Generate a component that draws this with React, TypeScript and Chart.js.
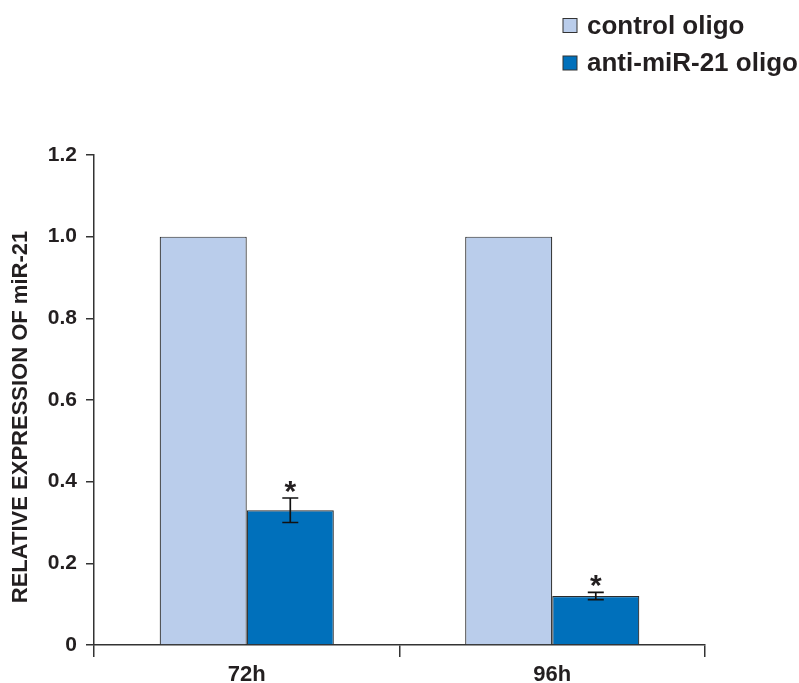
import React, { useEffect, useRef } from "react";
import { Chart, registerables } from "chart.js";

Chart.register(...registerables);

// Relative miR-21 expression after oligo transfection
const categories = ["72h", "96h"];
const seriesNames = ["control oligo", "anti-miR-21 oligo"];
const controlValues = [1.0, 1.0];
const antiValues = [0.33, 0.12];
const antiErrors = [0.03, 0.009];
const significanceMarks = ["*", "*"];
const yAxisTitle = "RELATIVE EXPRESSION OF miR-21";

const FONT = '"Liberation Sans", Arial, Helvetica, sans-serif';
const TEXT_COLOR = "#231f20";
const AXIS_COLOR = "#333333";
const CONTROL_COLOR = "#bacdeb";
const ANTI_COLOR = "#0070bb";

// Error bars and significance stars on the anti-miR-21 series
const errorBarPlugin = {
  id: "errorBars",
  afterDatasetsDraw(chart: any) {
    const ctx = chart.ctx;
    const yScale = chart.scales.y;
    const meta = chart.getDatasetMeta(1);
    ctx.save();
    meta.data.forEach((bar: any, i: number) => {
      const x = bar.x;
      const v = antiValues[i];
      const e = antiErrors[i];
      const yTop = yScale.getPixelForValue(v + e);
      const yBot = yScale.getPixelForValue(v - e);
      const cap = 8;
      ctx.strokeStyle = "#111";
      ctx.lineWidth = 1.7;
      ctx.beginPath();
      ctx.moveTo(x, yTop);
      ctx.lineTo(x, yBot);
      ctx.moveTo(x - cap, yTop);
      ctx.lineTo(x + cap, yTop);
      ctx.moveTo(x - cap, yBot);
      ctx.lineTo(x + cap, yBot);
      ctx.stroke();

      const mark = significanceMarks[i];
      if (mark) {
        ctx.font = `bold 30px ${FONT}`;
        ctx.fillStyle = TEXT_COLOR;
        ctx.textAlign = "center";
        ctx.textBaseline = "alphabetic";
        const m = ctx.measureText(mark);
        const target = yTop - 11;
        const baseline = target + (m.actualBoundingBoxAscent - m.actualBoundingBoxDescent) / 2;
        ctx.fillText(mark, x, baseline);
      }
    });
    ctx.restore();
  },
};

// Stacked legend in the top-right corner and the rotated y-axis title
const legendPlugin = {
  id: "stackedLegend",
  afterDraw(chart: any) {
    const ctx = chart.ctx;
    const colors = [CONTROL_COLOR, ANTI_COLOR];
    const rows = [25.5, 63];
    ctx.save();
    seriesNames.forEach((name, i) => {
      const cy = rows[i];
      ctx.fillStyle = colors[i];
      ctx.fillRect(563, cy - 7, 14, 14);
      ctx.strokeStyle = AXIS_COLOR;
      ctx.lineWidth = 1;
      ctx.strokeRect(563, cy - 7, 14, 14);
      ctx.font = `bold 26px ${FONT}`;
      ctx.fillStyle = TEXT_COLOR;
      ctx.textAlign = "left";
      ctx.textBaseline = "middle";
      ctx.fillText(name, 587, cy + 1);
    });

    ctx.translate(21, 417);
    ctx.rotate(-Math.PI / 2);
    ctx.font = `bold 22px ${FONT}`;
    ctx.fillStyle = TEXT_COLOR;
    ctx.textAlign = "center";
    ctx.textBaseline = "middle";
    ctx.fillText(yAxisTitle, 0, 0);
    ctx.restore();
  },
};

export default function App() {
  const canvasRef = useRef<HTMLCanvasElement | null>(null);

  useEffect(() => {
    const canvas = canvasRef.current;
    if (!canvas) return;
    const chart = new Chart(canvas, {
      type: "bar",
      data: {
        labels: categories,
        datasets: [
          {
            label: seriesNames[0],
            data: controlValues,
            backgroundColor: CONTROL_COLOR,
            borderColor: "#2b2b2b",
            borderWidth: 1.2,
            categoryPercentage: 0.57,
            barPercentage: 1.0,
          },
          {
            label: seriesNames[1],
            data: antiValues,
            backgroundColor: ANTI_COLOR,
            borderColor: "#2b2b2b",
            borderWidth: 1.2,
            categoryPercentage: 0.57,
            barPercentage: 1.0,
          },
        ],
      },
      options: {
        animation: false,
        responsive: false,
        maintainAspectRatio: false,
        devicePixelRatio: 1,
        layout: { padding: { top: 155, right: 94, bottom: 0, left: 0 } },
        plugins: {
          legend: { display: false },
          tooltip: { enabled: false },
        },
        scales: {
          x: {
            offset: true,
            grid: {
              offset: true,
              display: true,
              drawOnChartArea: false,
              drawTicks: true,
              tickLength: 12,
              color: AXIS_COLOR,
              lineWidth: 1.5,
            },
            border: { display: true, color: AXIS_COLOR, width: 1.5 },
            ticks: {
              color: TEXT_COLOR,
              font: { family: FONT, size: 22, weight: "bold" },
              padding: 5,
            },
            afterFit(scale: any) {
              scale.height = 38;
            },
          },
          y: {
            min: 0,
            max: 1.2,
            grid: {
              display: true,
              drawOnChartArea: false,
              drawTicks: true,
              tickLength: 8,
              color: AXIS_COLOR,
              lineWidth: 1.5,
            },
            border: { display: true, color: AXIS_COLOR, width: 1.5 },
            ticks: {
              stepSize: 0.2,
              padding: 9,
              color: TEXT_COLOR,
              font: { family: FONT, size: 21, weight: "bold" },
              callback: (v: any) => (Number(v) === 0 ? "0" : Number(v).toFixed(1)),
            },
            afterFit(scale: any) {
              scale.width = 94;
            },
          },
        },
      },
      plugins: [errorBarPlugin, legendPlugin],
    });
    return () => chart.destroy();
  }, []);

  return (
    <div style={{ position: "fixed", left: 0, top: 0, width: 799, height: 683, background: "#ffffff" }}>
      <canvas ref={canvasRef} width={799} height={683} style={{ display: "block", width: 799, height: 683 }} />
    </div>
  );
}
